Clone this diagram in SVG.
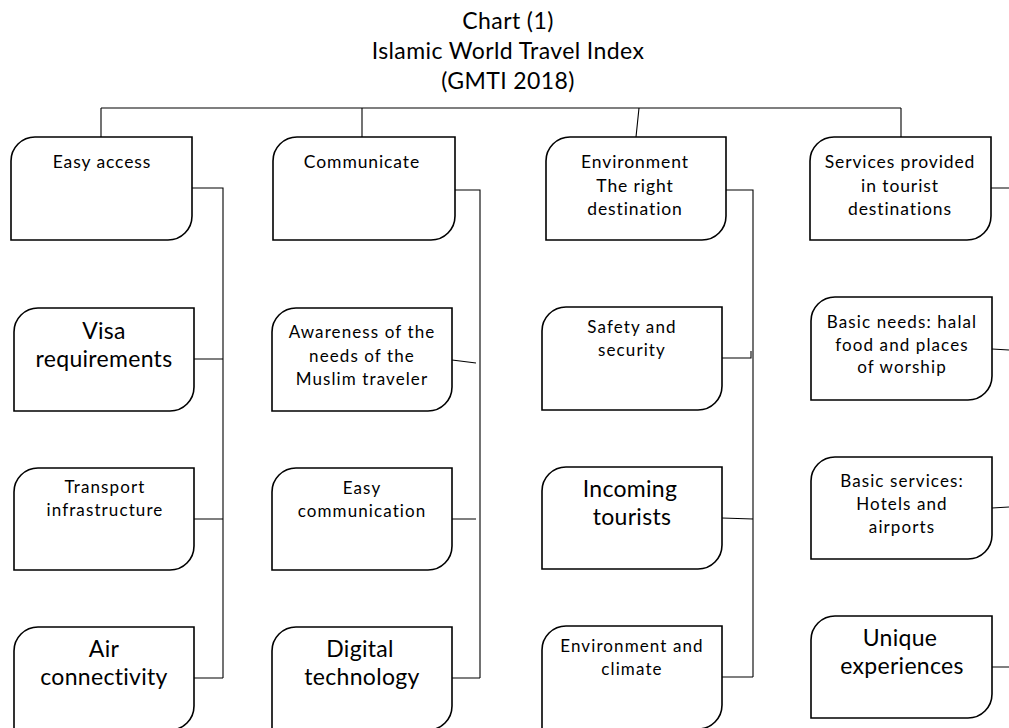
<svg xmlns="http://www.w3.org/2000/svg" width="1009" height="728" viewBox="0 0 1009 728">
<style>
.bg{fill:#fff}
.node{fill:#fff;stroke:#000;stroke-width:1.6}
.conn{fill:none;stroke:#000;stroke-width:1.1}
text{font-family:Lato,"Liberation Sans",sans-serif;fill:#000;text-anchor:middle}
.title{font-size:23px;letter-spacing:0.4px}
.t{font-size:17.5px;letter-spacing:0.9px}
.s{font-size:17px;letter-spacing:1.1px}
.b{font-size:23px;letter-spacing:0.3px}
</style>
<rect class="bg" width="1009" height="728"/>
<g id="title">
<text class="title" x="508" y="29">Chart (1)</text>
<text class="title" x="508" y="59">Islamic World Travel Index</text>
<text class="title" x="508" y="89">(GMTI 2018)</text>
</g>
<g id="connectors">
<path class="conn" d="M101,108 H901 M101,108 V137 M362,108 V137 M639,108 L636,137 M901,108 V137"/>
<path class="conn" d="M192,188 H223 V678 M194,359 H223 M194,519 H223 M194,678 H223"/>
<path class="conn" d="M455,190 H480 V678 M452,360 L476,363 M452,519 H476 M452,678 H480"/>
<path class="conn" d="M726,190 H753 V677 M722,358 H751 V351 M722,518 L753,519 M722,677 H753"/>
<path class="conn" d="M991,188 H1009 M992,349 L1009,350 M992,508 L1009,507 M992,667 H1009"/>
</g>
<g id="n-easy-access">
<path class="node" d="M11,161 A24,24 0 0 1 35,137 H192 V216 A24,24 0 0 1 168,240 H11 Z"/>
<text class="t" x="102" y="168">Easy access</text>
</g>
<g id="n-communicate">
<path class="node" d="M273,161 A24,24 0 0 1 297,137 H455 V216 A24,24 0 0 1 431,240 H273 Z"/>
<text class="t" x="362" y="168">Communicate</text>
</g>
<g id="n-environment">
<path class="node" d="M546,161 A24,24 0 0 1 570,137 H726 V216 A24,24 0 0 1 702,240 H546 Z"/>
<text class="t" x="635" y="168">Environment</text>
<text class="t" x="635" y="192">The right</text>
<text class="t" x="635" y="215">destination</text>
</g>
<g id="n-services">
<path class="node" d="M810,161 A24,24 0 0 1 834,137 H991 V216 A24,24 0 0 1 967,240 H810 Z"/>
<text class="t" x="900" y="168">Services provided</text>
<text class="t" x="900" y="192">in tourist</text>
<text class="t" x="900" y="215">destinations</text>
</g>
<g id="n-visa">
<path class="node" d="M14,332 A24,24 0 0 1 38,308 H194 V387 A24,24 0 0 1 170,411 H14 Z"/>
<text class="b" x="104" y="339">Visa</text>
<text class="b" x="104" y="367">requirements</text>
</g>
<g id="n-transport">
<path class="node" d="M14,492 A24,24 0 0 1 38,468 H194 V546 A24,24 0 0 1 170,570 H14 Z"/>
<text class="s" x="105" y="493">Transport</text>
<text class="s" x="105" y="516">infrastructure</text>
</g>
<g id="n-air">
<path class="node" d="M14,651 A24,24 0 0 1 38,627 H194 V706 A24,24 0 0 1 170,730 H14 Z"/>
<text class="b" x="104" y="657">Air</text>
<text class="b" x="104" y="685">connectivity</text>
</g>
<g id="n-awareness">
<path class="node" d="M272,332 A24,24 0 0 1 296,308 H452 V387 A24,24 0 0 1 428,411 H272 Z"/>
<text class="s" x="362" y="338">Awareness of the</text>
<text class="s" x="362" y="362">needs of the</text>
<text class="s" x="362" y="385">Muslim traveler</text>
</g>
<g id="n-easy-comm">
<path class="node" d="M272,492 A24,24 0 0 1 296,468 H452 V546 A24,24 0 0 1 428,570 H272 Z"/>
<text class="s" x="362" y="494">Easy</text>
<text class="s" x="362" y="517">communication</text>
</g>
<g id="n-digital">
<path class="node" d="M272,651 A24,24 0 0 1 296,627 H452 V706 A24,24 0 0 1 428,730 H272 Z"/>
<text class="b" x="360" y="657">Digital</text>
<text class="b" x="362" y="685">technology</text>
</g>
<g id="n-safety">
<path class="node" d="M542,331 A24,24 0 0 1 566,307 H722 V386 A24,24 0 0 1 698,410 H542 Z"/>
<text class="s" x="632" y="333">Safety and</text>
<text class="s" x="632" y="356">security</text>
</g>
<g id="n-incoming">
<path class="node" d="M542,491 A24,24 0 0 1 566,467 H722 V545 A24,24 0 0 1 698,569 H542 Z"/>
<text class="b" x="630" y="497">Incoming</text>
<text class="b" x="632" y="525">tourists</text>
</g>
<g id="n-env-climate">
<path class="node" d="M542,650 A24,24 0 0 1 566,626 H722 V705 A24,24 0 0 1 698,729 H542 Z"/>
<text class="s" x="632" y="652">Environment and</text>
<text class="s" x="632" y="675">climate</text>
</g>
<g id="n-basic-needs">
<path class="node" d="M811,321 A24,24 0 0 1 835,297 H992 V376 A24,24 0 0 1 968,400 H811 Z"/>
<text class="s" x="902" y="328">Basic needs: halal</text>
<text class="s" x="902" y="351">food and places</text>
<text class="s" x="902" y="373">of worship</text>
</g>
<g id="n-basic-services">
<path class="node" d="M811,481 A24,24 0 0 1 835,457 H992 V535 A24,24 0 0 1 968,559 H811 Z"/>
<text class="s" x="902" y="487">Basic services:</text>
<text class="s" x="902" y="510">Hotels and</text>
<text class="s" x="902" y="533">airports</text>
</g>
<g id="n-unique">
<path class="node" d="M811,640 A24,24 0 0 1 835,616 H992 V694 A24,24 0 0 1 968,718 H811 Z"/>
<text class="b" x="900" y="646">Unique</text>
<text class="b" x="902" y="674">experiences</text>
</g>
</svg>
